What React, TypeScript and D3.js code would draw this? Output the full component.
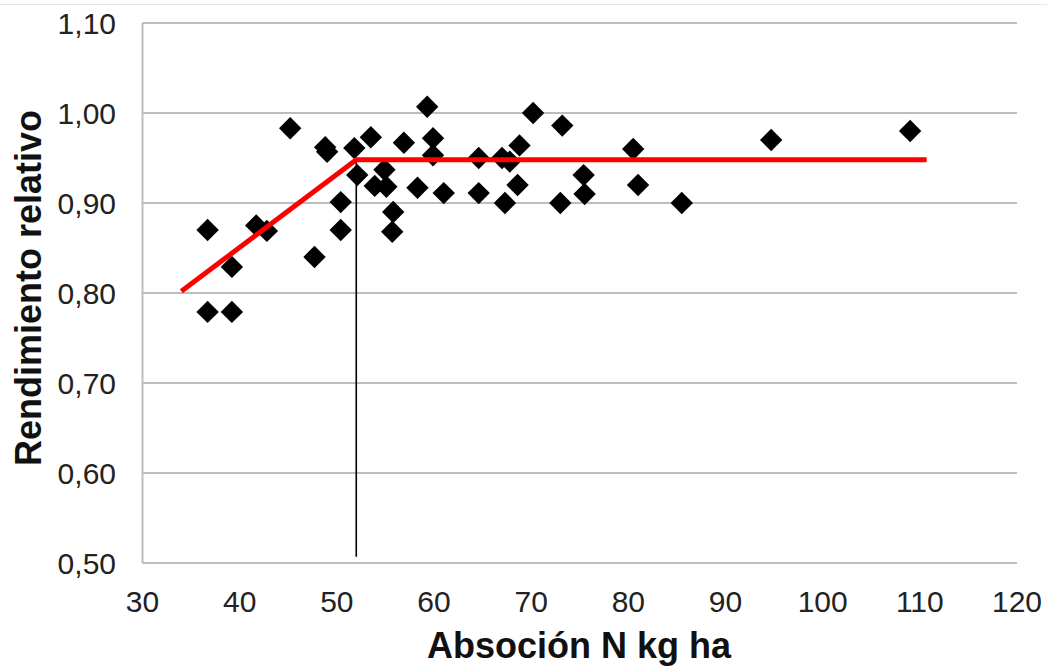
import React from "react";
import * as d3 from "d3";

const xTicks = [30, 40, 50, 60, 70, 80, 90, 100, 110, 120];
const yTicks = [0.5, 0.6, 0.7, 0.8, 0.9, 1.0, 1.1];

const absorcion = [
  36.7, 36.7, 39.2, 39.2, 41.7, 42.8, 45.2, 47.7, 48.8, 49.0, 50.4, 50.4,
  51.8, 52.1, 53.5, 53.9, 54.9, 55.1, 55.7, 55.8, 56.9, 58.3, 59.3, 59.9,
  59.9, 61.0, 64.6, 64.6, 67.0, 67.3, 67.8, 68.6, 68.8, 70.2, 73.0, 73.2,
  75.4, 75.5, 80.5, 81.0, 85.5, 94.7, 109.0,
];
const rendimiento = [
  0.870, 0.779, 0.829, 0.779, 0.875, 0.869, 0.983, 0.840, 0.962, 0.957, 0.901, 0.870,
  0.961, 0.931, 0.973, 0.919, 0.937, 0.918, 0.868, 0.890, 0.967, 0.917, 1.007, 0.972,
  0.953, 0.911, 0.950, 0.911, 0.950, 0.900, 0.946, 0.920, 0.964, 1.000, 0.900, 0.986,
  0.931, 0.910, 0.960, 0.920, 0.900, 0.970, 0.980,
];

// linear-plateau model: start, break point, end of plateau
const modeloX = [34.0, 52.0, 110.7];
const modeloY = [0.802, 0.948, 0.948];
const quiebreX = 52.0;

const W = 1047;
const H = 667;

export default function App() {
  const x = d3.scaleLinear().domain([30, 120]).range([142.5, 1017]);
  const y = d3.scaleLinear().domain([0.5, 1.1]).range([563, 23]);

  const line = d3
    .line<number>()
    .x((d, i) => x(modeloX[i]))
    .y((d) => y(d));

  const fmt = (v: number) => v.toFixed(2).replace(".", ",");
  const r = 11.2;
  const diamond = `M0,${-r}L${r},0L0,${r}L${-r},0Z`;

  return (
    <svg
      width={W}
      height={H}
      style={{ position: "fixed", left: 0, top: 0, background: "#fff" }}
      fontFamily="'Liberation Sans', Arial, sans-serif"
    >
      <rect x={0} y={0} width={W} height={H} fill="#fff" />
      <line x1={0} x2={W} y1={4.5} y2={4.5} stroke="#e6e6e6" strokeWidth={1} />
      {/* gridlines */}
      {yTicks.slice(1).map((t) => (
        <line
          key={t}
          x1={x(30)}
          x2={x(120)}
          y1={y(t)}
          y2={y(t)}
          stroke="#bdbdbd"
          strokeWidth={2}
        />
      ))}
      {/* axes */}
      <line x1={x(30)} x2={x(30)} y1={y(1.1)} y2={y(0.5)} stroke="#bdbdbd" strokeWidth={2} />
      <line x1={x(30)} x2={x(120)} y1={y(0.5)} y2={y(0.5)} stroke="#bdbdbd" strokeWidth={2} />

      {/* y tick labels */}
      {yTicks.map((t) => (
        <text
          key={t}
          x={116}
          y={y(t)}
          dy="0.35em"
          textAnchor="end"
          fontSize={30}
          fill="#222"
        >
          {fmt(t)}
        </text>
      ))}
      {/* x tick labels */}
      {xTicks.map((t) => (
        <text key={t} x={x(t)} y={612} textAnchor="middle" fontSize={30} fill="#222">
          {t}
        </text>
      ))}

      {/* vertical break line */}
      <line
        x1={x(quiebreX)}
        x2={x(quiebreX)}
        y1={y(modeloY[1])}
        y2={y(0.507)}
        stroke="#000"
        strokeWidth={1.6}
      />

      {/* points */}
      {absorcion.map((v, i) => (
        <path
          key={i}
          d={diamond}
          transform={`translate(${x(v)},${y(rendimiento[i])})`}
          fill="#000"
        />
      ))}

      {/* model line */}
      <path d={line(modeloY) || ""} fill="none" stroke="#ff0000" strokeWidth={5} />

      {/* titles */}
      <text
        x={579}
        y={658}
        textAnchor="middle"
        fontSize={36}
        fontWeight="bold"
        fill="#111"
      >
        Absoción N kg ha
      </text>
      <text
        transform={`translate(41,288) rotate(-90)`}
        textAnchor="middle"
        fontSize={36}
        fontWeight="bold"
        fill="#111"
      >
        Rendimiento relativo
      </text>
    </svg>
  );
}
